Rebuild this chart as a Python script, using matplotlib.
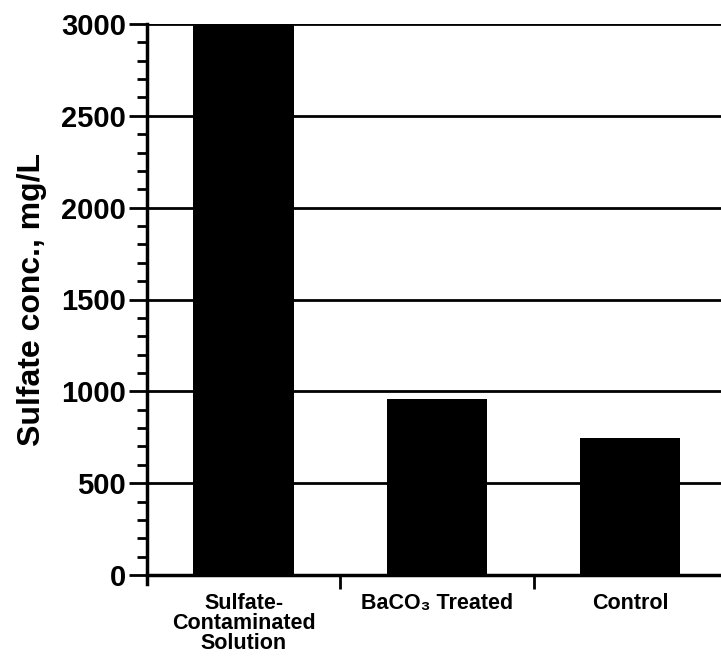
import matplotlib
matplotlib.use('Agg')
import matplotlib.pyplot as plt
from matplotlib.ticker import MultipleLocator, FixedLocator, NullFormatter

categories = ['Sulfate-\nContaminated\nSolution', 'BaCO₃ Treated', 'Control']
sulfate = [3000, 958, 746]
y_ticks = [0, 500, 1000, 1500, 2000, 2500, 3000]

plt.rcParams['font.family'] = ['Liberation Sans', 'DejaVu Sans']
plt.rcParams['font.weight'] = 'bold'

fig = plt.figure(figsize=(7.21, 6.63), dpi=100)
ax = fig.add_axes([147 / 721, 88 / 663, 1 - 147 / 721, 551 / 663])

x = list(range(len(categories)))
ax.bar(x, sulfate, width=0.52, color='black', zorder=3)

for v in y_ticks[1:]:
    ax.axhline(v, color='black', lw=2, zorder=1)

ax.set_xlim(-0.5, 2.47)
ax.set_ylim(0, 3000)
ax.set_yticks(y_ticks)
ax.set_yticklabels([str(v) for v in y_ticks], fontsize=21, fontweight='bold')
ax.yaxis.set_minor_locator(MultipleLocator(100))
ax.tick_params(axis='y', which='major', length=13, width=2, direction='out', pad=2)
ax.tick_params(axis='y', which='minor', length=7, width=2, direction='out')

ax.set_xticks(x)
ax.set_xticklabels(categories, fontsize=15.5, fontweight='bold', linespacing=0.95)
ax.tick_params(axis='x', which='major', length=0, pad=13)
ax.xaxis.set_minor_locator(FixedLocator([0.5, 1.5]))
ax.xaxis.set_minor_formatter(NullFormatter())
ax.tick_params(axis='x', which='minor', length=10, width=2, direction='out')

for side in ['top', 'right']:
    ax.spines[side].set_visible(False)
ax.spines['left'].set_linewidth(2.5)
ax.spines['bottom'].set_linewidth(2.5)
ax.spines['left'].set_bounds(-50, 3000)
ax.spines['left'].set_zorder(4)

ax.set_ylabel('Sulfate conc., mg/L', fontsize=23, fontweight='bold', labelpad=10)

fig.savefig('out.png', dpi=100)
